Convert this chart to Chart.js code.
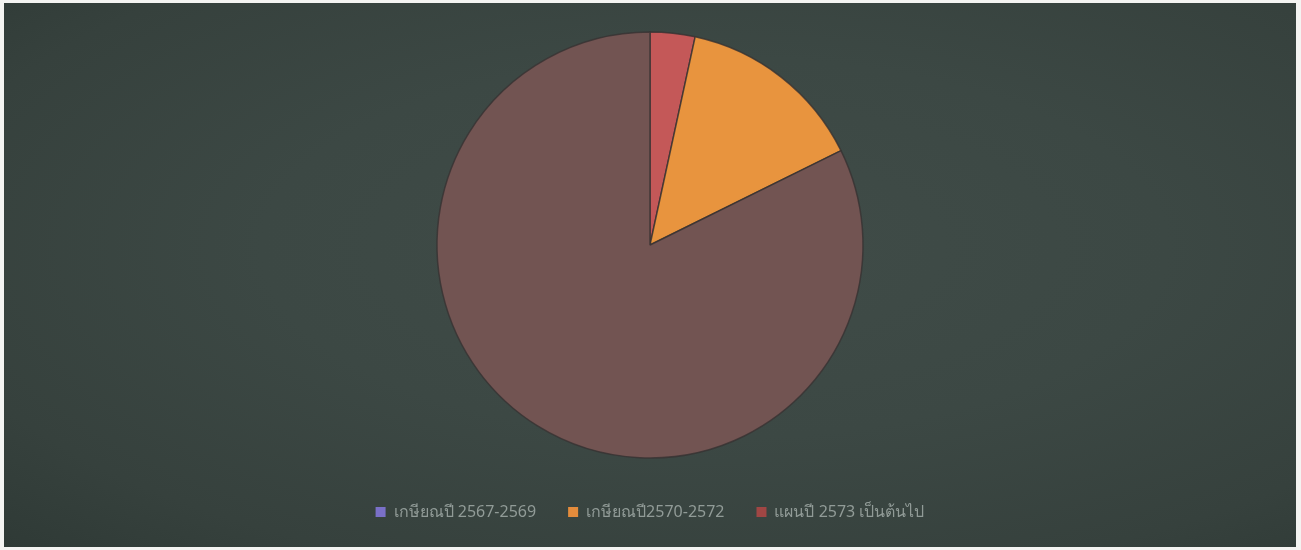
<!DOCTYPE html>
<html>
<head>
<meta charset="utf-8">
<script src="https://cdn.jsdelivr.net/npm/chart.js@4.4.0/dist/chart.umd.min.js"></script>
<style>
  html, body { margin: 0; padding: 0; background: #f4f4f2; }
  #wrap {
    position: absolute; left: 4px; top: 3px; width: 1292px; height: 544px;
    background: radial-gradient(ellipse at 55% 45%, rgb(64,76,72) 0%, rgb(60,72,68) 45%, rgb(54,65,61) 80%, rgb(47,58,54) 100%);
  }
  canvas { display: block; }
</style>
</head>
<body>
<div id="wrap"><canvas id="c" width="1292" height="544"></canvas></div>
<script>
const categories = ["เกษียณปี 2567-2569", "เกษียณปี2570-2572", "แผนปี 2573 เป็นต้นไป"];
const values = [3.4, 14.3, 82.3];
const sliceColors = ["rgb(196,88,88)", "rgb(232,148,62)", "rgb(114,84,82)"];
const legendColors = ["rgb(122,112,200)", "rgb(228,140,60)", "rgb(160,70,68)"];

new Chart(document.getElementById('c'), {
  type: 'pie',
  data: {
    labels: categories,
    datasets: [{
      data: values,
      backgroundColor: sliceColors,
      borderColor: "rgba(55,50,50,0.8)",
      borderWidth: 1.5,
      radius: 213
    }]
  },
  options: {
    responsive: false,
    animation: false,
    layout: { padding: { top: 15, bottom: 17 } },
    plugins: {
      tooltip: { enabled: false },
      legend: {
        position: 'bottom',
        labels: {
          font: { family: "'Noto Sans', 'DejaVu Sans', sans-serif", size: 16 },
          color: "rgb(145,155,151)",
          boxWidth: 10,
          boxHeight: 10,
          padding: 32,
          generateLabels: (chart) => categories.map((t, i) => ({
            text: t,
            fillStyle: legendColors[i],
            strokeStyle: legendColors[i],
            fontColor: "rgb(145,155,151)",
            lineWidth: 0,
            hidden: false,
            index: i
          }))
        }
      }
    }
  }
});
</script>
</body>
</html>
